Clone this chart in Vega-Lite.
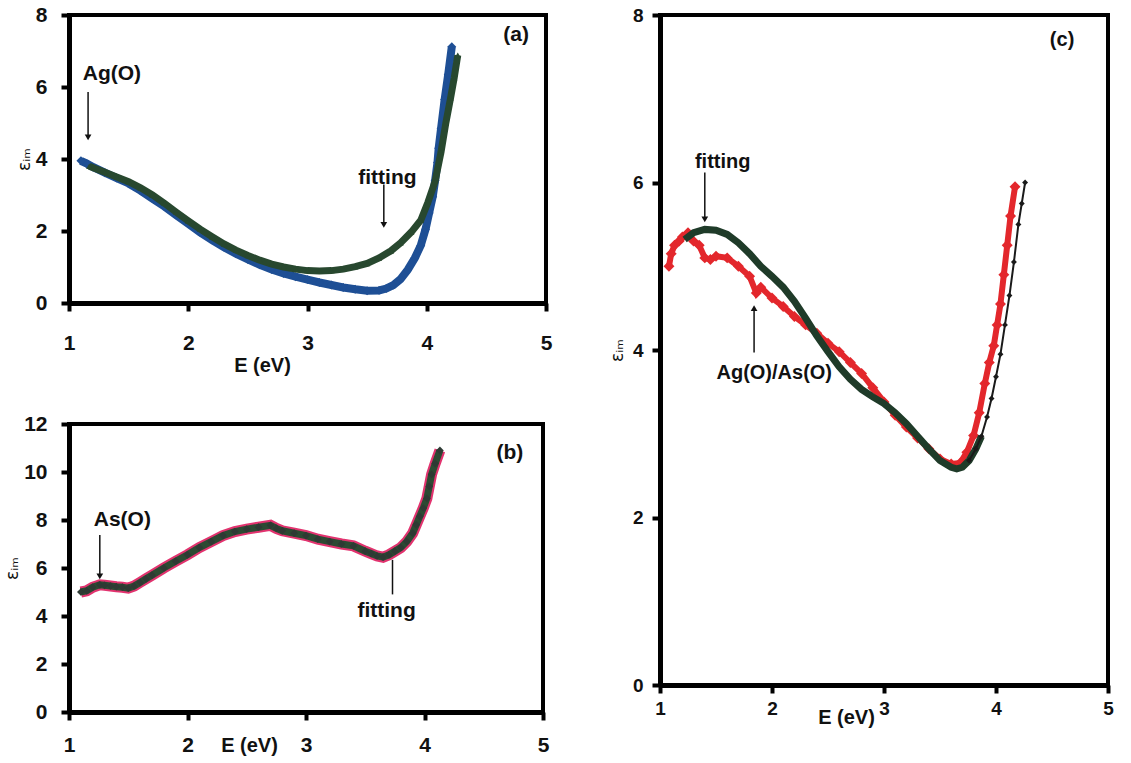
{
  "$schema": "https://vega.github.io/schema/vega-lite/v6.json",
  "background": "white",
  "padding": {"left": 1, "top": 2, "right": 5, "bottom": 5},
  "config": {
    "view": {"stroke": "#000000", "strokeWidth": 4},
    "style": {"cell": {"stroke": "#000000", "strokeWidth": 4}},
    "axis": {"domainColor": "#000000", "domainWidth": 5, "tickColor": "#000000", "tickWidth": 4, "tickSize": 8, "grid": false,
      "labelFont": "Liberation Sans", "labelFontWeight": "bold", "labelFontSize": 21, "labelColor": "#111111",
      "titleFont": "DejaVu Sans", "titleFontWeight": "normal", "titleFontSize": 17, "titleColor": "#111111",
      "labelFlush": false, "labelOverlap": false, "titlePadding": 2},
    "axisX": {"domainColor": "#000000", "domainWidth": 5, "tickColor": "#000000", "tickWidth": 4, "tickSize": 8},
    "axisY": {"domainColor": "#000000", "domainWidth": 5, "tickColor": "#000000", "tickWidth": 4, "tickSize": 8}
  },
  "datasets": {
    "a_meas": [
      {"E":1.10,"eps":3.95},{"E":1.15,"eps":3.87},{"E":1.2,"eps":3.78},{"E":1.3,"eps":3.62},{"E":1.4,"eps":3.47},{"E":1.5,"eps":3.32},{"E":1.6,"eps":3.12},{"E":1.7,"eps":2.9},{"E":1.8,"eps":2.68},{"E":1.9,"eps":2.44},{"E":2.0,"eps":2.2},{"E":2.1,"eps":1.96},{"E":2.2,"eps":1.75},{"E":2.3,"eps":1.55},{"E":2.4,"eps":1.37},{"E":2.5,"eps":1.21},{"E":2.6,"eps":1.06},{"E":2.7,"eps":0.93},{"E":2.8,"eps":0.82},{"E":2.9,"eps":0.73},{"E":3.0,"eps":0.65},{"E":3.1,"eps":0.57},{"E":3.2,"eps":0.5},{"E":3.3,"eps":0.43},{"E":3.4,"eps":0.38},{"E":3.5,"eps":0.34},{"E":3.6,"eps":0.35},{"E":3.66,"eps":0.4},{"E":3.72,"eps":0.5},{"E":3.78,"eps":0.66},{"E":3.84,"eps":0.92},{"E":3.9,"eps":1.25},{"E":3.95,"eps":1.6},{"E":3.99,"eps":2.05},{"E":4.02,"eps":2.5},{"E":4.05,"eps":2.95},{"E":4.07,"eps":3.4},{"E":4.09,"eps":3.9},{"E":4.1,"eps":4.3},{"E":4.12,"eps":4.85},{"E":4.15,"eps":5.65},{"E":4.18,"eps":6.35},{"E":4.21,"eps":7.12}
    ],
    "a_fit": [
      {"E":1.17,"eps":3.8},{"E":1.3,"eps":3.63},{"E":1.4,"eps":3.5},{"E":1.5,"eps":3.37},{"E":1.6,"eps":3.2},{"E":1.7,"eps":3.0},{"E":1.8,"eps":2.77},{"E":1.9,"eps":2.52},{"E":2.0,"eps":2.28},{"E":2.1,"eps":2.05},{"E":2.2,"eps":1.84},{"E":2.3,"eps":1.64},{"E":2.4,"eps":1.47},{"E":2.5,"eps":1.32},{"E":2.6,"eps":1.19},{"E":2.7,"eps":1.08},{"E":2.8,"eps":1.0},{"E":2.9,"eps":0.94},{"E":3.0,"eps":0.9},{"E":3.1,"eps":0.89},{"E":3.2,"eps":0.9},{"E":3.3,"eps":0.94},{"E":3.4,"eps":1.01},{"E":3.5,"eps":1.1},{"E":3.6,"eps":1.25},{"E":3.7,"eps":1.45},{"E":3.78,"eps":1.67},{"E":3.87,"eps":1.97},{"E":3.95,"eps":2.3},{"E":4.01,"eps":2.8},{"E":4.07,"eps":3.38},{"E":4.12,"eps":4.2},{"E":4.16,"eps":5.0},{"E":4.2,"eps":5.7},{"E":4.23,"eps":6.25},{"E":4.26,"eps":6.88}
    ],
    "a_arrows": [
      {"E":1.16,"eps":5.86,"eps2":4.6},
      {"E":3.64,"eps":3.29,"eps2":2.17}
    ],
    "a_text": [
      {"E":1.36,"eps":6.37,"label":"Ag(O)"},
      {"E":3.67,"eps":3.48,"label":"fitting"},
      {"E":4.75,"eps":7.45,"label":"(a)"}
    ],
    "b_meas": [
      {"E":1.1,"eps":5.0},{"E":1.15,"eps":5.05},{"E":1.2,"eps":5.2},{"E":1.26,"eps":5.3},{"E":1.3,"eps":5.28},{"E":1.35,"eps":5.25},{"E":1.4,"eps":5.22},{"E":1.45,"eps":5.2},{"E":1.5,"eps":5.16},{"E":1.55,"eps":5.25},{"E":1.6,"eps":5.4},{"E":1.65,"eps":5.55},{"E":1.7,"eps":5.7},{"E":1.8,"eps":6.0},{"E":1.9,"eps":6.28},{"E":2.0,"eps":6.55},{"E":2.1,"eps":6.85},{"E":2.2,"eps":7.1},{"E":2.3,"eps":7.35},{"E":2.4,"eps":7.52},{"E":2.5,"eps":7.62},{"E":2.6,"eps":7.7},{"E":2.7,"eps":7.78},{"E":2.75,"eps":7.65},{"E":2.8,"eps":7.55},{"E":2.9,"eps":7.45},{"E":3.0,"eps":7.35},{"E":3.1,"eps":7.2},{"E":3.2,"eps":7.1},{"E":3.3,"eps":7.0},{"E":3.4,"eps":6.92},{"E":3.5,"eps":6.7},{"E":3.55,"eps":6.6},{"E":3.6,"eps":6.5},{"E":3.65,"eps":6.45},{"E":3.7,"eps":6.55},{"E":3.75,"eps":6.7},{"E":3.8,"eps":6.85},{"E":3.85,"eps":7.1},{"E":3.9,"eps":7.45},{"E":3.93,"eps":7.8},{"E":3.96,"eps":8.15},{"E":3.99,"eps":8.5},{"E":4.02,"eps":8.9},{"E":4.04,"eps":9.4},{"E":4.06,"eps":9.9},{"E":4.09,"eps":10.35},{"E":4.13,"eps":10.9}
    ],
    "b_arrows": [
      {"E":1.26,"eps":7.38,"eps2":5.65,"dir":"down"},
      {"E":3.73,"eps":6.34,"eps2":4.9,"dir":"none"}
    ],
    "b_text": [
      {"E":1.45,"eps":8.0,"label":"As(O)"},
      {"E":3.68,"eps":4.2,"label":"fitting"},
      {"E":4.72,"eps":10.78,"label":"(b)"}
    ],
    "c_meas": [
      {"E":1.08,"eps":5.0},{"E":1.1,"eps":5.15},{"E":1.13,"eps":5.25},{"E":1.17,"eps":5.3},{"E":1.2,"eps":5.35},{"E":1.25,"eps":5.4},{"E":1.3,"eps":5.3},{"E":1.35,"eps":5.25},{"E":1.4,"eps":5.1},{"E":1.45,"eps":5.08},{"E":1.5,"eps":5.12},{"E":1.6,"eps":5.1},{"E":1.7,"eps":5.0},{"E":1.8,"eps":4.88},{"E":1.86,"eps":4.68},{"E":1.9,"eps":4.75},{"E":2.0,"eps":4.62},{"E":2.1,"eps":4.52},{"E":2.2,"eps":4.4},{"E":2.3,"eps":4.3},{"E":2.4,"eps":4.2},{"E":2.5,"eps":4.08},{"E":2.6,"eps":3.98},{"E":2.7,"eps":3.85},{"E":2.8,"eps":3.72},{"E":2.9,"eps":3.55},{"E":3.0,"eps":3.38},{"E":3.1,"eps":3.22},{"E":3.2,"eps":3.08},{"E":3.3,"eps":2.95},{"E":3.4,"eps":2.82},{"E":3.5,"eps":2.7},{"E":3.6,"eps":2.64},{"E":3.68,"eps":2.65},{"E":3.74,"eps":2.78},{"E":3.8,"eps":2.98},{"E":3.85,"eps":3.25},{"E":3.9,"eps":3.6},{"E":3.94,"eps":3.85},{"E":3.98,"eps":4.05},{"E":4.01,"eps":4.3},{"E":4.04,"eps":4.55},{"E":4.07,"eps":4.9},{"E":4.1,"eps":5.25},{"E":4.13,"eps":5.6},{"E":4.17,"eps":5.95}
    ],
    "c_fit": [
      {"E":1.22,"eps":5.32},{"E":1.3,"eps":5.4},{"E":1.4,"eps":5.44},{"E":1.5,"eps":5.43},{"E":1.6,"eps":5.38},{"E":1.7,"eps":5.28},{"E":1.8,"eps":5.15},{"E":1.9,"eps":5.0},{"E":2.0,"eps":4.88},{"E":2.1,"eps":4.75},{"E":2.2,"eps":4.58},{"E":2.3,"eps":4.38},{"E":2.4,"eps":4.17},{"E":2.5,"eps":3.98},{"E":2.6,"eps":3.8},{"E":2.7,"eps":3.65},{"E":2.8,"eps":3.53},{"E":2.9,"eps":3.44},{"E":3.0,"eps":3.36},{"E":3.1,"eps":3.25},{"E":3.2,"eps":3.12},{"E":3.3,"eps":2.97},{"E":3.4,"eps":2.82},{"E":3.5,"eps":2.68},{"E":3.6,"eps":2.6},{"E":3.65,"eps":2.58},{"E":3.7,"eps":2.6},{"E":3.76,"eps":2.68},{"E":3.82,"eps":2.82},{"E":3.87,"eps":2.97},{"E":3.92,"eps":3.2},{"E":3.96,"eps":3.42},{"E":4.0,"eps":3.68},{"E":4.04,"eps":3.95},{"E":4.08,"eps":4.3},{"E":4.12,"eps":4.65},{"E":4.16,"eps":5.05},{"E":4.2,"eps":5.5},{"E":4.23,"eps":5.75},{"E":4.26,"eps":6.0}
    ],
    "c_arrows": [
      {"E":1.4,"eps":6.12,"eps2":5.56,"dir":"down"},
      {"E":1.84,"eps":3.97,"eps2":4.5,"dir":"up"}
    ],
    "c_text": [
      {"E":1.56,"eps":6.24,"label":"fitting"},
      {"E":2.02,"eps":3.73,"label":"Ag(O)/As(O)"},
      {"E":4.59,"eps":7.7,"label":"(c)"}
    ]
  },
  "hconcat": [
    {
      "spacing": 34,
      "vconcat": [
        {
          "width": 477, "height": 288,
          "data": {"name": "a_meas"},
          "encoding": {
            "x": {"field": "E", "type": "quantitative", "scale": {"domain": [1, 5], "nice": false, "zero": false},
              "axis": {"values": [1, 2, 3, 4, 5], "format": "d", "title": "E (eV)", "titleFont": "Liberation Sans", "titleFontWeight": "bold", "titleFontSize": 20, "titleX": 193, "titleY": 62, "titleBaseline": "middle", "titleAlign": "center", "labelPadding": 21}},
            "y": {"field": "eps", "type": "quantitative", "scale": {"domain": [0, 8], "nice": false},
              "axis": {"values": [0, 2, 4, 6, 8], "title": "εᵢₘ", "labelPadding": 14}}
          },
          "layer": [
            {"mark": {"type": "line", "color": "#1e4f95", "strokeWidth": 8}},
            {"mark": {"type": "point", "shape": "diamond", "filled": true, "size": 80, "color": "#1e4f95", "opacity": 1}},
            {"data": {"name": "a_fit"}, "mark": {"type": "line", "color": "#28482f", "strokeWidth": 7}},
            {"data": {"name": "a_fit"}, "mark": {"type": "point", "shape": "triangle-up", "filled": true, "size": 40, "color": "#28482f", "opacity": 1}},
            {"data": {"name": "a_arrows"}, "mark": {"type": "rule", "color": "#111111", "strokeWidth": 1.5}, "encoding": {"y2": {"field": "eps2"}}},
            {"data": {"name": "a_arrows"}, "mark": {"type": "point", "shape": "triangle-down", "filled": true, "size": 45, "color": "#111111", "opacity": 1}, "encoding": {"y": {"field": "eps2", "type": "quantitative"}}},
            {"data": {"name": "a_text"}, "mark": {"type": "text", "font": "Liberation Sans", "fontWeight": "bold", "fontSize": 21, "color": "#111111"}, "encoding": {"text": {"field": "label"}}}
          ]
        },
        {
          "width": 474, "height": 288,
          "data": {"name": "b_meas"},
          "encoding": {
            "x": {"field": "E", "type": "quantitative", "scale": {"domain": [1, 5], "nice": false, "zero": false},
              "axis": {"values": [1, 2, 3, 4, 5], "format": "d", "title": "E (eV)", "titleFont": "Liberation Sans", "titleFontWeight": "bold", "titleFontSize": 20, "titleX": 180, "titleY": 33, "titleBaseline": "middle", "titleAlign": "center", "labelPadding": 14}},
            "y": {"field": "eps", "type": "quantitative", "scale": {"domain": [0, 12], "nice": false},
              "axis": {"values": [0, 2, 4, 6, 8, 10, 12], "title": "εᵢₘ", "labelPadding": 14}}
          },
          "layer": [
            {"mark": {"type": "line", "color": "#e2336f", "strokeWidth": 11}},
            {"mark": {"type": "line", "color": "#2c4a33", "strokeWidth": 7}},
            {"mark": {"type": "point", "shape": "diamond", "filled": true, "size": 60, "color": "#2e3a34", "opacity": 1}},
            {"data": {"name": "b_arrows"}, "mark": {"type": "rule", "color": "#111111", "strokeWidth": 1.5}, "encoding": {"y2": {"field": "eps2"}}},
            {"data": {"name": "b_arrows"}, "transform": [{"filter": "datum.dir === 'down'"}], "mark": {"type": "point", "shape": "triangle-down", "filled": true, "size": 45, "color": "#111111", "opacity": 1}, "encoding": {"y": {"field": "eps2", "type": "quantitative"}}},
            {"data": {"name": "b_text"}, "mark": {"type": "text", "font": "Liberation Sans", "fontWeight": "bold", "fontSize": 21, "color": "#111111"}, "encoding": {"text": {"field": "label"}}}
          ]
        }
      ]
    },
    {
      "width": 448, "height": 670,
      "data": {"name": "c_meas"},
      "encoding": {
        "x": {"field": "E", "type": "quantitative", "scale": {"domain": [1, 5], "nice": false, "zero": false},
          "axis": {"values": [1, 2, 3, 4, 5], "format": "d", "title": "E (eV)", "titleFont": "Liberation Sans", "titleFontWeight": "bold", "titleFontSize": 20, "titleX": 186, "titleY": 32, "titleBaseline": "middle", "titleAlign": "center", "labelPadding": 6, "labelFontSize": 19}},
        "y": {"field": "eps", "type": "quantitative", "scale": {"domain": [0, 8], "nice": false},
          "axis": {"values": [0, 2, 4, 6, 8], "title": "εᵢₘ", "labelPadding": 9, "labelFontSize": 19, "titlePadding": 6}}
      },
      "layer": [
        {"mark": {"type": "line", "color": "#e3272c", "strokeWidth": 6}},
        {"mark": {"type": "point", "shape": "diamond", "filled": true, "size": 120, "color": "#e3272c", "opacity": 1}},
        {"data": {"name": "c_fit"}, "transform": [{"filter": "datum.E <= 3.9"}], "mark": {"type": "line", "color": "#1f3b29", "strokeWidth": 7}},
        {"data": {"name": "c_fit"}, "transform": [{"filter": "datum.E >= 3.76"}], "mark": {"type": "line", "color": "#1a1a1a", "strokeWidth": 2}},
        {"data": {"name": "c_fit"}, "transform": [{"filter": "datum.E >= 3.76"}], "mark": {"type": "point", "shape": "diamond", "filled": true, "size": 35, "color": "#1a1a1a", "opacity": 1}},
        {"data": {"name": "c_arrows"}, "mark": {"type": "rule", "color": "#111111", "strokeWidth": 1.5}, "encoding": {"y2": {"field": "eps2"}}},
        {"data": {"name": "c_arrows"}, "transform": [{"filter": "datum.dir === 'down'"}], "mark": {"type": "point", "shape": "triangle-down", "filled": true, "size": 45, "color": "#111111", "opacity": 1}, "encoding": {"y": {"field": "eps2", "type": "quantitative"}}},
        {"data": {"name": "c_arrows"}, "transform": [{"filter": "datum.dir === 'up'"}], "mark": {"type": "point", "shape": "triangle-up", "filled": true, "size": 45, "color": "#111111", "opacity": 1}, "encoding": {"y": {"field": "eps2", "type": "quantitative"}}},
        {"data": {"name": "c_text"}, "mark": {"type": "text", "font": "Liberation Sans", "fontWeight": "bold", "fontSize": 20, "color": "#111111"}, "encoding": {"text": {"field": "label"}}}
      ]
    }
  ],
  "spacing": 52
}
